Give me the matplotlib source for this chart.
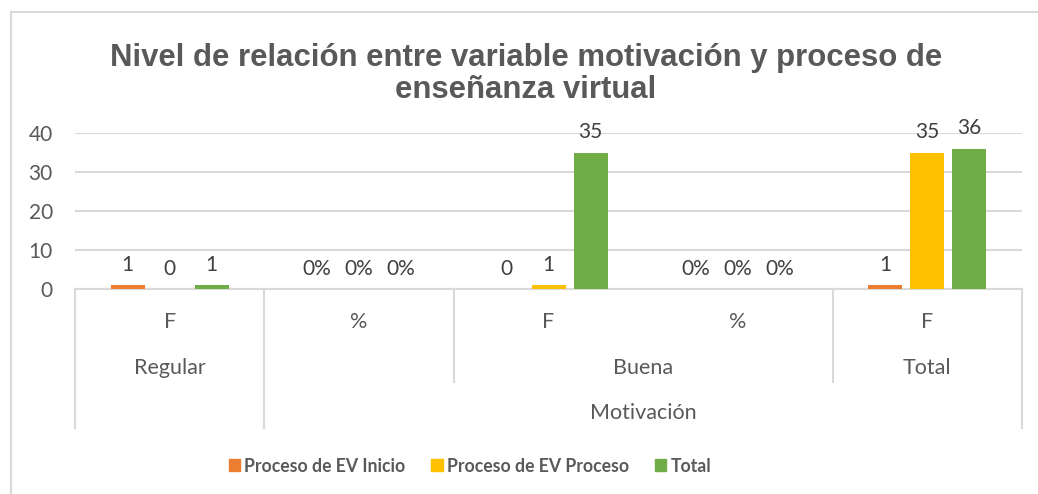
import matplotlib.pyplot as plt
import matplotlib.transforms as mtransforms
from matplotlib.patches import Patch
import numpy as np

# data
categories = ['F', '%', 'F', '%', 'F']
level2 = [('Regular', 0, 1), ('', 1, 2), ('Buena', 2, 4), ('Total', 4, 5)]
level3 = [('', 0, 1), ('Motivación', 1, 5)]
series_names = ['Proceso de EV Inicio', 'Proceso de EV Proceso', 'Total']
inicio = [1, 0, 0, 0, 1]
proceso = [0, 0, 1, 0, 35]
total = [1, 0, 35, 0, 36]
yticks = [0, 10, 20, 30, 40]

colors = ['#ED7D31', '#FFC000', '#70AD47']
grey_txt = '#595959'
lab_txt = '#404040'
line_col = '#D9D9D9'

plt.rcParams['font.family'] = ['Lato', 'DejaVu Sans']

W, H = 1038, 494
fig = plt.figure(figsize=(W / 100, H / 100), dpi=100)

# plot area in pixels
x0, x1 = 75, 1022
y_top, y_zero = 133, 289
ax = fig.add_axes([x0 / W, 1 - y_zero / H, (x1 - x0) / W, (y_zero - y_top) / H])

# chart frame (only top and left edges visible in reference)
fig.add_artist(plt.Line2D([10.5 / W, 10.5 / W], [0, 1 - 12.5 / H], color=line_col, lw=1.5))
fig.add_artist(plt.Line2D([10.5 / W, 1], [1 - 12.5 / H, 1 - 12.5 / H], color=line_col, lw=1.5))

x = np.arange(len(categories)) + 0.5
bw = 34 / 189.4
step = 42 / 189.4
for i, (vals, name) in enumerate(zip([inicio, proceso, total], series_names)):
    xs = x + (i - 1) * step
    ax.bar(xs, vals, width=bw, color=colors[i], label=name, zorder=3)
    for xi, v, cat in zip(xs, vals, categories):
        txt = f'{v:.0%}' if cat == '%' else f'{v:g}'
        ax.annotate(txt, (xi, v), xytext=(0, 7.5), textcoords='offset points',
                    ha='center', va='bottom', fontsize=15, color=lab_txt, clip_on=False)

ax.set_xlim(0, len(categories))
ax.set_ylim(0, 40)
ax.set_yticks(yticks)
ax.set_xticks([])
ax.tick_params(axis='y', length=0, labelsize=15, labelcolor=grey_txt, pad=16)
ax.grid(axis='y', color=line_col, lw=1.5, zorder=0)
for s in ['top', 'right', 'left']:
    ax.spines[s].set_visible(False)
ax.spines['bottom'].set_color(line_col)
ax.spines['bottom'].set_linewidth(1.5)

# multi-level category axis
trans = mtransforms.blended_transform_factory(ax.transData, ax.transAxes)
hpx = y_zero - y_top
def yfrac(ypx):
    return (y_zero - ypx) / hpx

for xi, cat in zip(x, categories):
    ax.text(xi, yfrac(322), cat, transform=trans, ha='center', va='center',
            fontsize=15.5, color=grey_txt)
for name, a, b in level2:
    if name:
        ax.text((a + b) / 2, yfrac(368), name, transform=trans, ha='center', va='center',
                fontsize=15.5, color=grey_txt)
for name, a, b in level3:
    if name:
        ax.text((a + b) / 2, yfrac(413), name, transform=trans, ha='center', va='center',
                fontsize=15.5, color=grey_txt)

full_bounds = set()
for name, a, b in level3:
    full_bounds.update([a, b])
mid_bounds = set()
for name, a, b in level2:
    mid_bounds.update([a, b])
for bx in sorted(mid_bounds | full_bounds):
    ybot = 428 if bx in full_bounds else 382
    ax.plot([bx, bx], [0, yfrac(ybot)], transform=trans, color=line_col, lw=1.5,
            clip_on=False, zorder=1)

# title
fig.text(526 / W, 1 - 74 / H, 'Nivel de relación entre variable motivación y proceso de\nenseñanza virtual',
         ha='center', va='center', fontsize=22.4, fontweight='bold', color=grey_txt,
         family='Liberation Sans', linespacing=1.05)

# legend
handles = [Patch(color=c) for c in colors]
fig.legend(handles, series_names, loc='center', bbox_to_anchor=(470 / W, 1 - 466 / H),
           ncol=3, frameon=False, handlelength=0.65, handleheight=0.65, handletextpad=0.25,
           columnspacing=1.45, prop={'weight': 'bold', 'size': 12.7}, labelcolor=grey_txt)

fig.savefig('out.png', dpi=100)
